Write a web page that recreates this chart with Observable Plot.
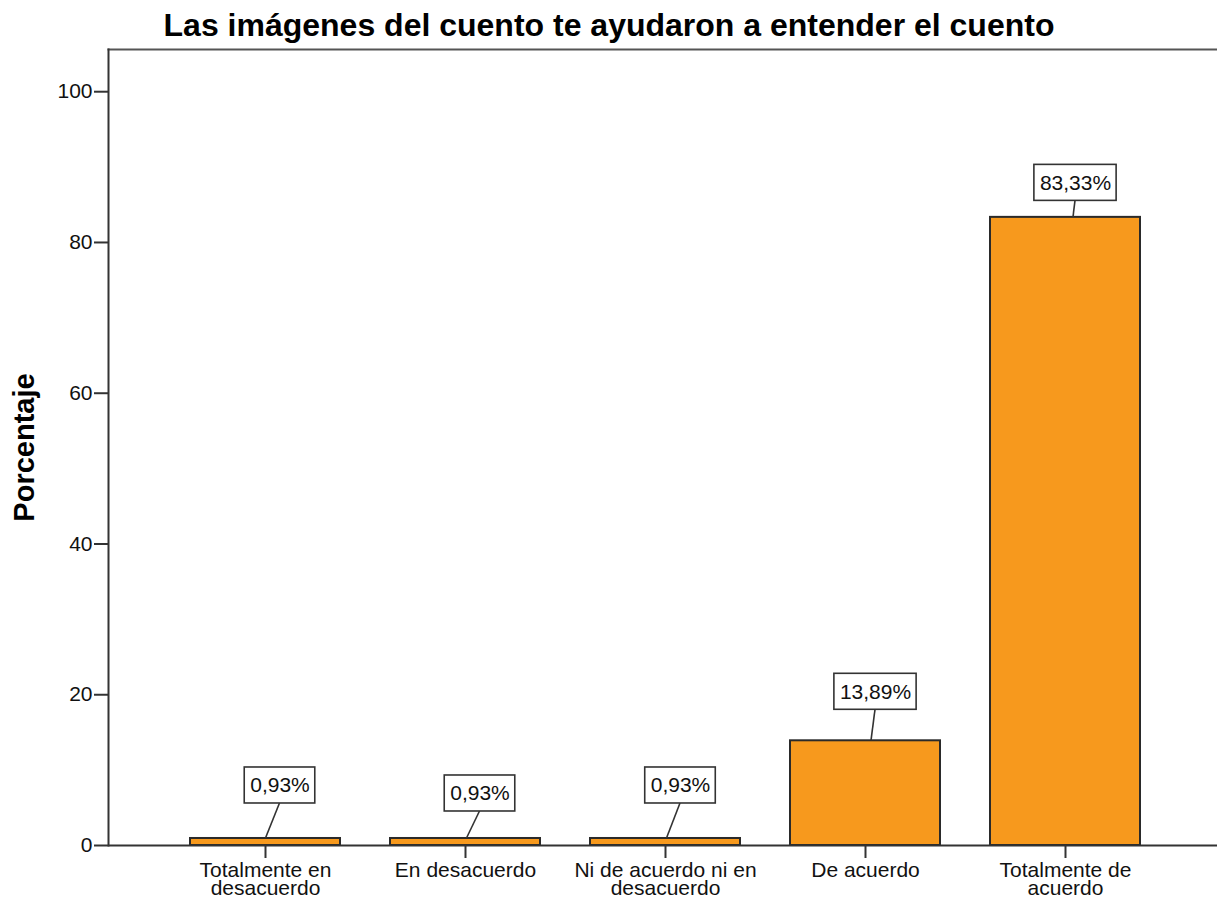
<!DOCTYPE html>
<html>
<head>
<meta charset="utf-8">
<script src="https://cdn.jsdelivr.net/npm/d3@7"></script>
<script src="https://cdn.jsdelivr.net/npm/@observablehq/plot@0.6"></script>
<style>
  body { margin: 0; background: #fff; }
  svg { display: block; }
</style>
</head>
<body>
<div id="chart"></div>
<script>
// ---- data ----
const categories = [
  "Totalmente en\ndesacuerdo",
  "En desacuerdo",
  "Ni de acuerdo ni en\ndesacuerdo",
  "De acuerdo",
  "Totalmente de\nacuerdo"
];
const percentages = [0.93, 0.93, 0.93, 13.89, 83.33];
const valueLabels = ["0,93%", "0,93%", "0,93%", "13,89%", "83,33%"];
const yTicks = [0, 20, 40, 60, 80, 100];
const chartTitle = "Las imágenes del cuento te ayudaron a entender el cuento";
const yAxisTitle = "Porcentaje";

// ---- label placement (style, pixels relative to bar top centre) ----
const labelDx = [14.5, 14.5, 15, 10, 10];
const labelDy = [-53, -45, -53, -49, -34.5];
const leaderDx = [0.5, 1.5, 1.5, 6, 8];

const rows = categories.map((c, i) => ({category: c, value: percentages[i], label: valueLabels[i]}));
const FONT = "'Liberation Sans', Arial, Helvetica, sans-serif";
const yMax = 105.6;

const labelMarks = rows.map((r, i) =>
  Plot.text([r], {
    x: "category", y: "value", text: "label",
    dx: labelDx[i], dy: labelDy[i],
    fontSize: 21, fill: "#111", lineAnchor: "middle",
    ariaLabel: () => "value-label"
  })
);

const plot = Plot.plot({
  width: 1217,
  height: 901,
  marginTop: 49,
  marginBottom: 56,
  marginLeft: 108,
  marginRight: 0,
  style: {fontFamily: FONT, background: "#fff", color: "#111"},
  x: {domain: categories, range: [165, 1165], paddingInner: 0.25, paddingOuter: 0.125},
  y: {domain: [0, yMax]},
  marks: [
    Plot.frame({anchor: "top", stroke: "#555", strokeWidth: 2}),
    Plot.frame({anchor: "left", stroke: "#333", strokeWidth: 2}),
    Plot.barY(rows, {x: "category", y: "value", fill: "#F7991D", stroke: "#2a2a2a", strokeWidth: 2}),
    Plot.ruleY([0], {stroke: "#333", strokeWidth: 2}),
    Plot.axisY({ticks: yTicks, tickSize: 14, tickPadding: 2, fontSize: 21, stroke: "#333", strokeWidth: 2, label: null, tickFormat: d => String(d)}),
    Plot.axisX({tickSize: 13, tickPadding: 6, fontSize: 21, lineHeight: 0.86, stroke: "#333", strokeWidth: 2, label: null}),
    Plot.text([chartTitle], {text: d => d, frameAnchor: "top", dx: -54, dy: -14, lineAnchor: "bottom", fontSize: 32, fontWeight: "bold", fill: "#000"}),
    Plot.text([yAxisTitle], {text: d => d, frameAnchor: "left", textAnchor: "middle", rotate: -90, dx: -75, lineAnchor: "bottom", fontSize: 29, fontWeight: "bold", fill: "#000"}),
    ...labelMarks
  ]
});

document.getElementById("chart").append(plot);

// ---- boxed labels with leader lines ----
const xs = plot.scale("x"), ys = plot.scale("y");
const bw = xs.bandwidth || 0;
const texts = plot.querySelectorAll('text[aria-label="value-label"]');
const ns = "http://www.w3.org/2000/svg";
const deco = document.createElementNS(ns, "g");
deco.setAttribute("aria-label", "label-boxes");
rows.forEach((r, i) => {
  const t = texts[i];
  if (!t) return;
  const w = t.getComputedTextLength() + 11;
  const h = 36;
  const bx = xs.apply(r.category) + bw / 2;
  const by = ys.apply(r.value);
  const cx = bx + labelDx[i];
  const cy = by + labelDy[i];
  const line = document.createElementNS(ns, "line");
  line.setAttribute("x1", cx); line.setAttribute("y1", cy + h / 2);
  line.setAttribute("x2", bx + leaderDx[i]); line.setAttribute("y2", by);
  line.setAttribute("stroke", "#333"); line.setAttribute("stroke-width", 1.6);
  deco.appendChild(line);
  const rect = document.createElementNS(ns, "rect");
  rect.setAttribute("x", cx - w / 2); rect.setAttribute("y", cy - h / 2);
  rect.setAttribute("width", w); rect.setAttribute("height", h);
  rect.setAttribute("fill", "#fff"); rect.setAttribute("stroke", "#333"); rect.setAttribute("stroke-width", 1.6);
  deco.appendChild(rect);
});
const firstGroup = texts[0] && texts[0].closest("g");
if (firstGroup) firstGroup.parentNode.insertBefore(deco, firstGroup);
</script>
</body>
</html>
